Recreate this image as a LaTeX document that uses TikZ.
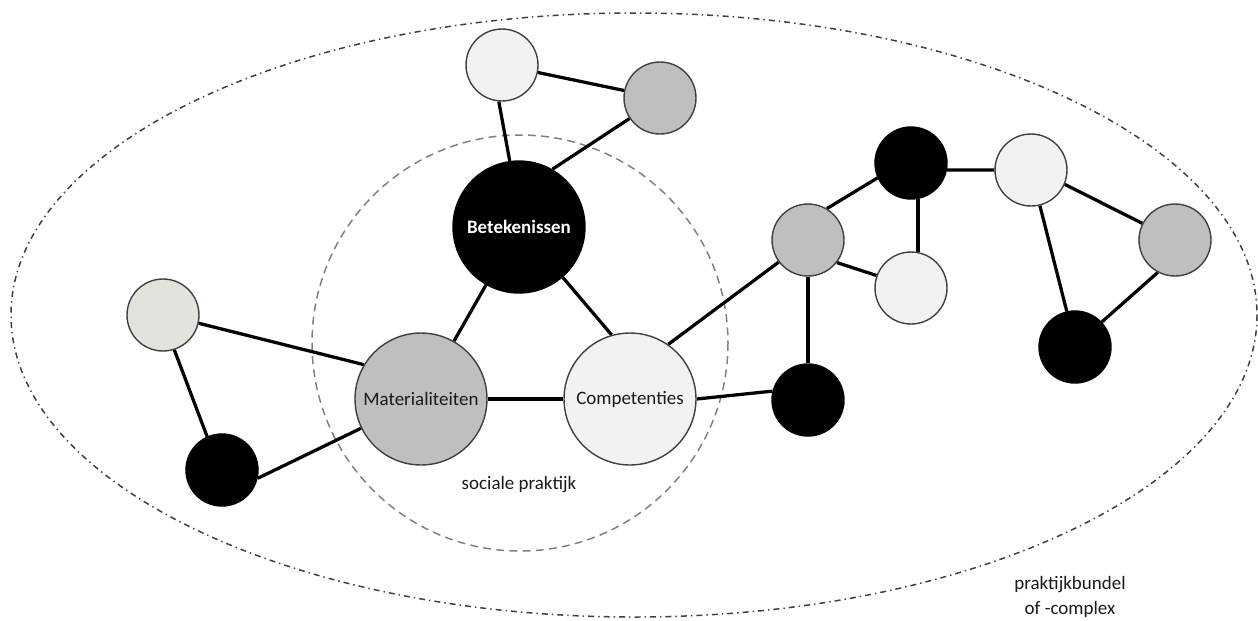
\documentclass[tikz,border=0pt]{standalone}
\usepackage{fontspec}
\setmainfont{Carlito}
\usetikzlibrary{backgrounds}
\definecolor{lightfill}{HTML}{F2F2F2}
\definecolor{midfill}{HTML}{BFBFBF}
\definecolor{beigefill}{HTML}{E4E2DD}
\definecolor{rimcol}{HTML}{404040}
\definecolor{txtcol}{HTML}{1A1A1A}
\begin{document}
\begin{tikzpicture}[x=0.02cm,y=-0.02cm,
  every node/.style={font=\fontsize{10.8}{14}\selectfont, text=txtcol},
  dot/.style={circle, draw=rimcol, line width=0.8pt, inner sep=0pt, minimum size=1.44cm},
  bigdot/.style={dot, minimum size=2.64cm},
  pale/.style={fill=lightfill},
  grey/.style={fill=midfill},
  beige/.style={fill=beigefill},
  dark/.style={fill=black, draw=black},
  link/.style={line width=1.85pt, black},
  caption/.style={align=center, inner sep=0pt}]
\useasboundingbox (0,0) rectangle (1258,620);

% main practice triangle
\node[bigdot, dark, text=white, font=\fontsize{10.8}{14}\selectfont\bfseries] (bet) at (519,227) {Betekenissen};
\node[bigdot, grey] (mat) at (421,399) {Materialiteiten};
\node[bigdot, pale] (comp) at (630,399) {Competenties};

% surrounding smaller practices
\node[dot, pale] (tl) at (502,65) {};
\node[dot, grey] (tg) at (660,98) {};
\node[dot, beige] (ll) at (163,315) {};
\node[dot, dark] (lb) at (222,470) {};
\node[dot, grey] (g1) at (808,240) {};
\node[dot, dark] (bt) at (911,163) {};
\node[dot, pale] (sl) at (911,288) {};
\node[dot, dark] (b2) at (808,400) {};
\node[dot, pale] (rl) at (1031,170) {};
\node[dot, grey] (rg) at (1175,240) {};
\node[dot, dark] (rb) at (1075,347) {};

% labels
\node[caption] (soc) at (519,485) {sociale praktijk};
\node[caption] (bundel) at (1070,597) {praktijkbundel\\of -complex};

\begin{scope}[on background layer]
  % boundary of the bundle and of the single practice
  \draw[rimcol, line width=0.85pt, dash pattern=on 3.4pt off 2.3pt on 0.8pt off 2.3pt] (634,315) ellipse [x radius=623, y radius=302];
  \draw[gray, line width=0.85pt, dash pattern=on 4.5pt off 3pt] (520,343) circle [radius=208];

  % connections
  \draw[link] (tl.-95) -- (bet.98);
  \draw[link] (tl) -- (tg);
  \draw[link] (tg.-146) -- (bet.60);
  \draw[link] (bet) -- (mat);
  \draw[link] (bet.-49) -- (comp.106);
  \draw[link] (mat) -- (comp);
  \draw[link] (ll.-13) -- (mat.149);
  \draw[link] (ll.-72) -- (lb.114);
  \draw[link] (lb.-13) -- (mat.-154);
  \draw[link] (comp.55) -- (g1.-143);
  \draw[link] (comp.0) -- (b2.166);
  \draw[link] (g1.59) -- (bt.-156);
  \draw[link] (g1.-38) -- (sl.160);
  \draw[link] (bt.-79) -- (sl.79);
  \draw[link] (g1) -- (b2);
  \draw[link] (bt.-11) -- (rl.180);
  \draw[link] (rl.-23) -- (rg.153);
  \draw[link] (rl.-76) -- (rb.103);
  \draw[link] (rg.-118) -- (rb.43);
\end{scope}
\end{tikzpicture}
\end{document}
